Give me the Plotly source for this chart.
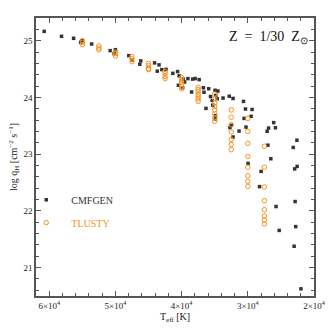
"""
Ionizing photon flux q_H vs Teff, CMFGEN vs TLUSTY models at Z = 1/30 Zsun.
"""
import plotly.graph_objects as go

# ── Data ───────────────────────────────────────────────────────────────────
CMFGEN_TEFF = [
    60760, 58140, 56320, 55260, 55050, 53590, 50800, 50200, 50000, 47990,
    47470, 46170, 46320, 44090, 43410, 43680, 42990, 42350, 41330, 40610,
    40380, 40490, 39740, 39550, 39850, 39050, 38330, 37960, 37350, 38490,
    36710, 36620, 35910, 35640, 34960, 34520, 34850, 35380, 34620, 33740,
    32800, 32230, 36320, 35300, 34890, 34890, 30650, 30350, 29350, 29500,
    30560, 32700, 32500, 32230, 31320, 30270, 27080, 26860, 26090, 25830,
    26970, 26520, 29960, 27990, 28230, 25730, 25260, 22580, 23140, 22550,
    22920, 22850, 22760, 23000, 21970,
]
CMFGEN_LOGQ = [
    25.165, 25.077, 25.042, 24.972, 25.000, 24.942, 24.825, 24.772, 24.842, 24.737,
    24.661, 24.644, 24.586, 24.609, 24.574, 24.463, 24.491, 24.495, 24.425, 24.456,
    24.381, 24.214, 24.319, 24.272, 24.170, 24.332, 24.323, 24.333, 24.314, 24.096,
    24.170, 24.091, 24.153, 24.016, 24.126, 24.112, 24.035, 23.947, 23.977, 23.989,
    24.021, 23.982, 23.807, 23.863, 23.679, 23.621, 23.930, 23.796, 23.788, 23.667,
    23.630, 23.468, 23.507, 23.302, 23.407, 23.477, 23.404, 23.460, 23.556, 23.465,
    23.158, 22.919, 22.837, 22.696, 22.428, 22.077, 21.656, 23.246, 23.118, 22.784,
    22.740, 22.165, 21.723, 21.377, 20.626,
]

TLUSTY_TEFF = (
    [55000] * 3 + [52500] * 3 + [50000] * 3 + [47500] * 3 + [45000] * 4
    + [42500] * 4 + [40000] * 6 + [37500] * 7 + [35000] * 8 + [32500] * 7
    + [30000] * 8 + [27500] * 8
)
TLUSTY_LOGQ = [
    25.00, 24.97, 24.93,
    24.91, 24.87, 24.84,
    24.80, 24.77, 24.73,
    24.72, 24.68, 24.63,
    24.60, 24.56, 24.51, 24.49,
    24.46, 24.42, 24.37, 24.33,
    24.35, 24.31, 24.27, 24.23, 24.19, 24.15,
    24.18, 24.14, 24.10, 24.05, 24.01, 23.97, 23.93,
    24.06, 23.98, 23.90, 23.84, 23.78, 23.71, 23.64, 23.58,
    23.78, 23.65, 23.52, 23.39, 23.26, 23.17, 23.08,
    23.63, 23.40, 23.19, 22.96, 22.77, 22.62, 22.52, 22.43,
    23.14, 22.77, 22.42, 22.18, 22.02, 21.91, 21.84, 21.77,
]

X_TICKS = [60000, 50000, 40000, 30000, 20000]
X_TICKTEXT = ["6×10<sup>4</sup>", "5×10<sup>4</sup>", "4×10<sup>4</sup>",
              "3×10<sup>4</sup>", "2×10<sup>4</sup>"]

# ── Styling ────────────────────────────────────────────────────────────────
FONT = "Liberation Serif"
FRAME = "#555555"
DARK = "#333333"
ORANGE = "#f7931e"

fig = go.Figure()

fig.add_trace(go.Scatter(
    x=CMFGEN_TEFF, y=CMFGEN_LOGQ, mode="markers", name="\u2002CMFGEN",
    marker=dict(symbol="square", size=3.5, color=DARK),
    legend="legend",
))
fig.add_trace(go.Scatter(
    x=TLUSTY_TEFF, y=TLUSTY_LOGQ, mode="markers", name="\u2002TLUSTY",
    marker=dict(symbol="circle-open", size=4.5, color=ORANGE, line=dict(width=1)),
    legend="legend2",
))

axis_common = dict(
    showline=True, linecolor=FRAME, linewidth=1.5, mirror="ticks",
    ticks="inside", ticklen=5, tickwidth=1, tickcolor=FRAME,
    showgrid=False, zeroline=False, automargin=False,
    tickfont=dict(family=FONT, size=9, color="#222222"),
)

fig.update_xaxes(
    range=[62000, 20000],
    tickvals=X_TICKS, ticktext=X_TICKTEXT,
    minor=dict(dtick=2000, tick0=20000, ticks="inside", ticklen=3,
               tickcolor=FRAME, showgrid=False),
    title=dict(text="T<sub>eff</sub> [K]", font=dict(family=FONT, size=10),
               standoff=2),
    **axis_common,
)
fig.update_yaxes(
    range=[20.5, 25.4], dtick=1, tick0=21,
    minor=dict(dtick=0.2, tick0=21, ticks="inside", ticklen=3,
               tickcolor=FRAME, showgrid=False),
    title=dict(text="log q<sub>H</sub> [cm<sup>−2</sup> s<sup>−1</sup>]",
               font=dict(family=FONT, size=10), standoff=4),
    **axis_common,
)

fig.add_annotation(
    x=0.985, y=0.93, xref="paper", yref="paper", xanchor="right", yanchor="middle",
    text="Z  =  1/30  Z<sub>⊙</sub>", showarrow=False,
    font=dict(family=FONT, size=14, color="#111111"),
)

legend_common = dict(
    xanchor="left", yanchor="middle", bgcolor="rgba(0,0,0,0)",
    borderwidth=0, x=-0.035,
)
fig.update_layout(
    width=332, height=332,
    margin=dict(l=36, r=18, t=18, b=36, autoexpand=False),
    paper_bgcolor="white", plot_bgcolor="white",
    font=dict(family=FONT, size=10, color="#222222"),
    showlegend=True,
    legend=dict(y=0.346, font=dict(family=FONT, size=10, color=DARK),
                **legend_common),
    legend2=dict(y=0.264, font=dict(family=FONT, size=10, color=ORANGE),
                 **legend_common),
)

# page body has a default 8px margin; drop it so the figure sits at 0,0
fig.write_html("out.html", config={"displayModeBar": False},
               post_script="document.body.style.margin = '0';")
